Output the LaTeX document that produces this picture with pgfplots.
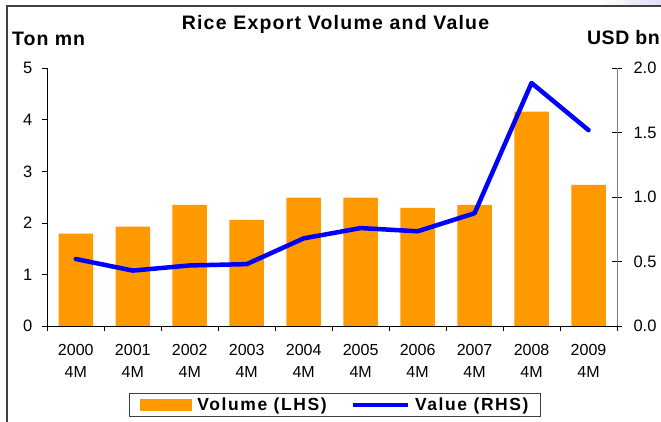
\documentclass[border=0pt]{standalone}
\usepackage{pgfplots}
\pgfplotsset{compat=1.18}
\usepackage{fontspec}
\setmainfont{Liberation Sans}
\definecolor{barorange}{RGB}{255,153,0}
\definecolor{lineblue}{RGB}{0,0,255}
\definecolor{framegray}{RGB}{64,64,64}
\definecolor{rightgray}{RGB}{128,128,128}
\newcommand{\lsp}[1]{\addfontfeature{LetterSpace=#1}}
\begin{document}
\begin{tikzpicture}[x=1pt,y=1pt]
\useasboundingbox (0,0) rectangle (661,422);
\fill[white] (0,0) rectangle (661,422);
\shade[left color=white, right color={rgb,255:red,222;green,222;blue,246}] (600,416) rectangle (661,422);
\draw[framegray, line width=1.5pt] (7,0) -- (7,416) -- (661,416);
\node[anchor=base, inner sep=0pt, font=\fontsize{19.5}{22}\selectfont\bfseries\lsp{6.3}] at (335.5,392) {Rice Export Volume and Value};
\node[anchor=base west, inner sep=0pt, font=\fontsize{19.5}{22}\selectfont\bfseries\lsp{5}] at (12,376.3) {Ton mn};
\node[anchor=base east, inner sep=0pt, font=\fontsize{19.5}{22}\selectfont\bfseries\lsp{3}] at (660,377.5) {USD bn};

\begin{axis}[
  at={(47.3pt,96pt)}, anchor=south west, scale only axis,
  width=569.7pt, height=257.7pt,
  xmin=-0.5, xmax=9.5, ymin=0, ymax=5,
  axis x line*=bottom, axis y line*=left,
  axis line style={black, line width=0.8pt, -},
  xtick={0,...,9},
  xticklabels={2000\\4M,2001\\4M,2002\\4M,2003\\4M,2004\\4M,2005\\4M,2006\\4M,2007\\4M,2008\\4M,2009\\4M},
  xticklabel style={align=center, font=\fontsize{16}{22}\selectfont, yshift=-9pt},
  major x tick style={draw=none},
  minor xtick={-0.5,0.5,...,9.5},
  minor tick length=5pt,
  ytick={0,1,2,3,4,5},
  yticklabels={0,1,2,3,4,5},
  yticklabel style={font=\fontsize{16.5}{18}\selectfont, xshift=-6pt},
  tick align=outside, major tick length=5.5pt,
  tick style={black, line width=0.8pt},
  /pgf/number format/assume math mode=true,
  clip=false,
]
\addplot[ybar, bar width=34.5pt, fill=barorange, draw=none] coordinates {
  (0,1.79) (1,1.93) (2,2.35) (3,2.06) (4,2.49) (5,2.49) (6,2.29) (7,2.35) (8,4.16) (9,2.74)
};
\end{axis}

\begin{axis}[
  at={(47.3pt,96pt)}, anchor=south west, scale only axis,
  width=569.7pt, height=257.7pt,
  xmin=-0.5, xmax=9.5, ymin=0, ymax=2,
  axis x line=none, axis y line*=right,
  axis line style={rightgray, line width=0.8pt, -},
  ytick={0,0.5,1,1.5,2},
  yticklabels={0.0,0.5,1.0,1.5,2.0},
  yticklabel style={font=\fontsize{16.5}{18}\selectfont, xshift=8pt},
  tick align=center, major tick length=10pt,
  tick style={black, line width=0.8pt},
  /pgf/number format/assume math mode=true,
  clip=false,
  legend columns=2,
  legend style={at={(0.505,-0.3066)}, anchor=center, draw=framegray, line width=1pt,
    inner xsep=11pt, inner ysep=3pt,
    font=\fontsize{17.5}{20}\selectfont\bfseries\lsp{9},
    nodes={inner sep=1pt},
    /tikz/every odd column/.style={column sep=4pt},
    /tikz/every even column/.style={column sep=23pt}},
]
\addlegendimage{legend image code/.code={\fill[barorange] (0pt,-5.5pt) rectangle (51pt,5.5pt);}}
\addlegendentry{Volume (LHS)}
\addlegendimage{legend image code/.code={\draw[lineblue, line width=4.5pt] (0pt,0pt) -- (55pt,0pt);}}
\addlegendentry{Value (RHS)}
\addplot[lineblue, line width=4.5pt, line join=round, line cap=round, forget plot] coordinates {
  (0,0.52) (1,0.43) (2,0.47) (3,0.48) (4,0.68) (5,0.76) (6,0.735) (7,0.875) (8,1.886) (9,1.52)
};
\end{axis}
\end{tikzpicture}
\end{document}
